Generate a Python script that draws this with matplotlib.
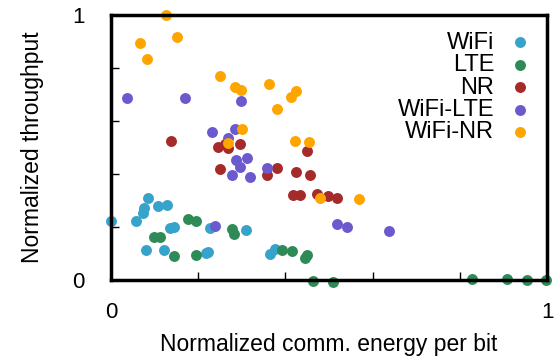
import matplotlib.pyplot as plt

plt.rcParams['font.family'] = ['Liberation Sans', 'DejaVu Sans']

# WiFi
wifi_x = [0.0, 0.057, 0.073, 0.075, 0.086, 0.108, 0.128, 0.135, 0.144, 0.080, 0.122,
          0.218, 0.223, 0.227, 0.310, 0.365, 0.376]
wifi_y = [0.224, 0.224, 0.252, 0.271, 0.311, 0.279, 0.283, 0.195, 0.200, 0.113, 0.113,
          0.101, 0.105, 0.195, 0.188, 0.099, 0.116]
# LTE
lte_x = [0.099, 0.112, 0.144, 0.176, 0.194, 0.194, 0.277, 0.283, 0.392, 0.414, 0.449,
         0.445, 0.464, 0.510, 0.829, 0.908, 0.955, 0.998]
lte_y = [0.163, 0.163, 0.092, 0.229, 0.223, 0.093, 0.191, 0.172, 0.113, 0.111, 0.094,
         0.082, -0.004, -0.008, 0.005, 0.005, 0.0, 0.0]
# NR
nr_x = [0.138, 0.245, 0.261, 0.269, 0.296, 0.449, 0.250, 0.357, 0.381, 0.424, 0.456,
        0.418, 0.433, 0.472, 0.498, 0.519]
nr_y = [0.526, 0.503, 0.515, 0.499, 0.513, 0.488, 0.419, 0.396, 0.424, 0.406, 0.395,
        0.321, 0.321, 0.326, 0.316, 0.308]
# WiFi-LTE
wl_x = [0.036, 0.170, 0.298, 0.231, 0.284, 0.268, 0.287, 0.311, 0.297, 0.277, 0.319,
        0.358, 0.239, 0.519, 0.542, 0.637]
wl_y = [0.688, 0.688, 0.675, 0.557, 0.569, 0.537, 0.453, 0.462, 0.425, 0.396, 0.388,
        0.424, 0.204, 0.211, 0.200, 0.184]
# WiFi-NR
wn_x = [0.125, 0.067, 0.082, 0.151, 0.251, 0.284, 0.298, 0.362, 0.380, 0.413, 0.424,
        0.300, 0.269, 0.422, 0.455, 0.479, 0.569]
wn_y = [1.000, 0.893, 0.835, 0.916, 0.771, 0.728, 0.716, 0.738, 0.646, 0.691, 0.713,
        0.569, 0.516, 0.525, 0.522, 0.311, 0.306]

series = [
    ("WiFi", wifi_x, wifi_y, "#36a3cb"),
    ("LTE", lte_x, lte_y, "#2e8b57"),
    ("NR", nr_x, nr_y, "#a52a2a"),
    ("WiFi-LTE", wl_x, wl_y, "#6a5acd"),
    ("WiFi-NR", wn_x, wn_y, "#ffa500"),
]

fig = plt.figure(figsize=(5.55, 3.58), dpi=100)
ax = fig.add_axes([0.2, 0.218, 0.7856, 0.74])

for name, xs, ys, c in series:
    ax.scatter(xs, ys, s=62, color=c, label=name, linewidths=0, clip_on=False, zorder=3)

ax.set_xlim(0, 1)
ax.set_ylim(0, 1)
ticks = [0, 0.2, 0.4, 0.6, 0.8, 1]
labels = ["0", "", "", "", "", "1"]
ax.set_xticks(ticks)
ax.set_xticklabels(labels)
ax.set_yticks(ticks)
ax.set_yticklabels(labels)
ax.tick_params(direction="in", length=6, width=1, labelsize=16, top=False, right=False)
ax.tick_params(axis="x", pad=16)
ax.tick_params(axis="y", pad=19)
for sp in ax.spines.values():
    sp.set_linewidth(2.5)
    sp.set_zorder(4)

ax.set_xlabel("Normalized comm. energy per bit", fontsize=16.5, labelpad=7)
ax.set_ylabel("Normalized throughput", fontsize=16.5, labelpad=20)

ax.legend(loc="upper right", bbox_to_anchor=(1.02, 1.0), frameon=False, markerfirst=False,
          fontsize=17, labelspacing=0.02, handletextpad=0.3, markerscale=1.0,
          borderpad=0.2, handlelength=1.6)

fig.savefig("out.png", dpi=100)
